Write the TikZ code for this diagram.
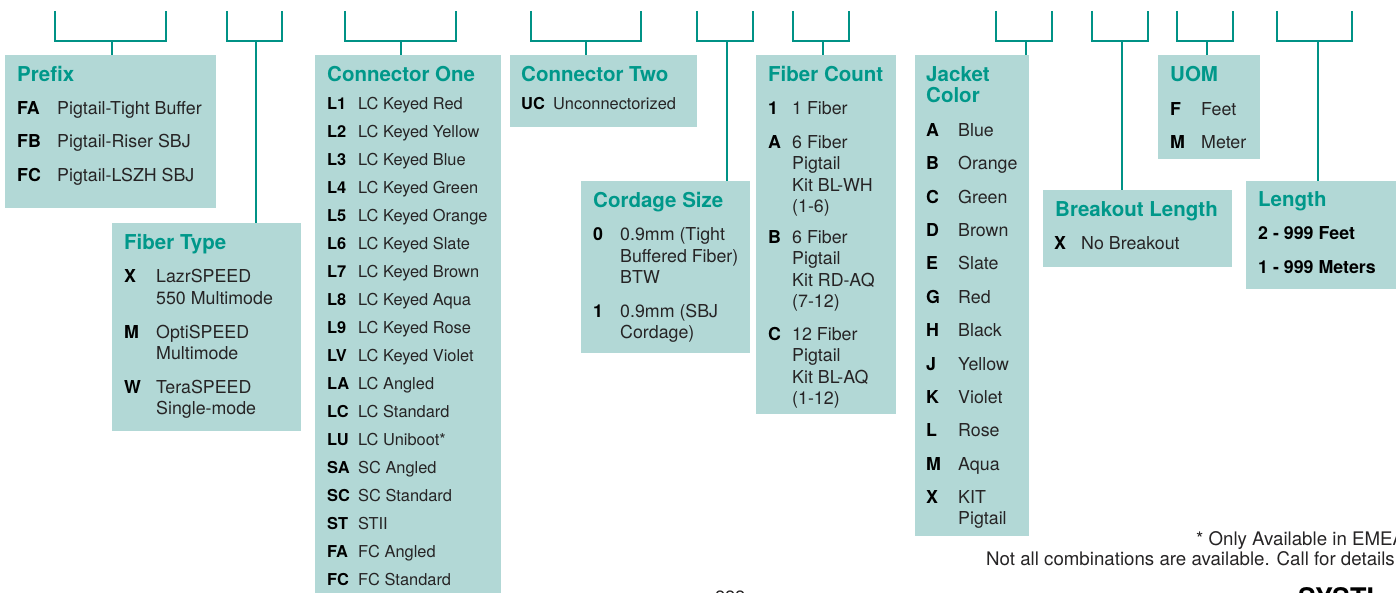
\documentclass[tikz,border=0pt]{standalone}
\usepackage{fontspec}
\setmainfont{TeX Gyre Heros}
\usetikzlibrary{fit}
\definecolor{panelbg}{RGB}{178,216,214}
\definecolor{hdr}{RGB}{0,152,138}
\definecolor{wirec}{RGB}{0,146,134}
\definecolor{ink}{RGB}{38,36,37}

\begin{document}
\begin{tikzpicture}[x=1pt,y=-1pt,line join=miter,
 panel/.style={fill=panelbg,inner sep=0pt,outer sep=0pt},
 ttl/.style={anchor=base west,inner sep=0pt,text=hdr,font=\fontsize{20.5}{24}\selectfont\bfseries},
 cd/.style={anchor=base west,inner sep=0pt,font=\fontsize{17.8}{21}\selectfont\bfseries},
 tx/.style={anchor=base west,inner sep=0pt,text=ink,font=\fontsize{17.8}{21}\selectfont},
 cdn/.style={cd,font=\fontsize{16.4}{20}\selectfont\bfseries},
 txn/.style={tx,font=\fontsize{16.4}{20}\selectfont},
 wire/.style={draw=wirec,line width=1.7pt}]
\useasboundingbox (0,0) rectangle (1396,593);
\clip (0,0) rectangle (1396,593);
% panels
\foreach \p/\a/\b/\c/\d in {prefix/5/55/216/208,ftype/112/223/301/431,conone/315/55/501/600,contwo/510/55/697/127,cordage/581/181/750/353,fcount/756/55/896/414,jacket/915/55/1029/536,breakout/1043/190/1232/267,uom/1158/55/1260/159,length/1246/181/1400/289}
  \node[panel,fit={(\a,\b)(\c,\d)}] (\p) {};
% brackets and their stems
\foreach \l/\r/\s/\p in {55/166/112/prefix,227/282/256/ftype,345/456/401/conone,531/641/586/contwo,697/753/727/cordage,793/849/823/fcount,996/1052/1026/jacket,1092/1148/1122/breakout,1177/1233/1207/uom,1277/1352/1318/length}{
  \draw[wire] (\l,11) -- (\l,41) -- (\r,41) -- (\r,11);
  \coordinate (s-\p) at (\s,41);
  \draw[wire] (s-\p) -- (s-\p |- \p.north);
}
% titles
\foreach \x/\y/\t [count=\i] in {17/82/Prefix,124/250/Fiber Type,327/81.5/Connector One,521/82/Connector Two,593/208/Cordage Size,768/82/Fiber Count,926/82/Jacket,926/103/Color,1055/217/Breakout Length,1170/82/UOM,1258/207/Length}
  \node[ttl] (t\i) at (\x,\y) {\t};
% codes
\foreach \x/\y/\t [count=\i] in {17/115/FA,17/148/FB,17/182/FC,124/283/X,124/338/M,124/393/W,593/241/0,593/317/1,768/115/1,768/148.5/A,768/243.5/B,768/340/C,1054/250/X,1170/116/F,1170/149/M,1258/240/2 - 999 Feet,1258/274/1 - 999 Meters}
  \node[cd] (k\i) at (\x,\y) {\t};
% descriptions
\foreach \x/\y/\t [count=\i] in {57/115/Pigtail-Tight Buffer,57/148/Pigtail-Riser SBJ,57/182/Pigtail-LSZH SBJ,
  156/283/LazrSPEED,156/305/550 Multimode,156/338/OptiSPEED,156/359/Multimode,156/393/TeraSPEED,156/414/Single-mode,
  620/241/0.9mm (Tight,620/263/Buffered Fiber),620/284/BTW,620/317/0.9mm (SBJ,620/338/Cordage),
  792/115/1 Fiber,792/148.5/6 Fiber,792/170/Pigtail,792/191.5/Kit BL-WH,792/213/(1-6),
  792/243.5/6 Fiber,792/265/Pigtail,792/286.5/Kit RD-AQ,792/308/(7-12),
  792/340/12 Fiber,792/361.5/Pigtail,792/383/Kit BL-AQ,792/404.5/(1-12),
  958/524/Pigtail,1081/250/No Breakout,1201/116/Feet,1201/149/Meter}
  \node[tx] (d\i) at (\x,\y) {\t};
% connector one
\foreach \c/\t [count=\i] in {L1/LC Keyed Red,L2/LC Keyed Yellow,L3/LC Keyed Blue,L4/LC Keyed Green,L5/LC Keyed Orange,L6/LC Keyed Slate,L7/LC Keyed Brown,L8/LC Keyed Aqua,L9/LC Keyed Rose,LV/LC Keyed Violet,LA/LC Angled,LC/LC Standard,LU/LC Uniboot*,SA/SC Angled,SC/SC Standard,ST/STII,FA/FC Angled,FC/FC Standard}{
  \node[cdn] (a\i) at (327,{81.5+28*\i}) {\c};
  \node[txn] (ad\i) at (358,{81.5+28*\i}) {\t};
}
\node[cdn] (uc) at (521,110) {UC};
\node[txn] (ucd) at (553,110) {Unconnectorized};
% jacket colours
\foreach \c/\t [count=\i] in {A/Blue,B/Orange,C/Green,D/Brown,E/Slate,G/Red,H/Black,J/Yellow,K/Violet,L/Rose,M/Aqua,X/KIT}{
  \node[cd] (j\i) at (926,{103.1+33.37*\i}) {\c};
  \node[tx] (jd\i) at (958,{103.1+33.37*\i}) {\t};
}
% notes
\node[tx,font=\fontsize{18.7}{22}\selectfont] (note1) at (1196,545) {* Only Available in EMEA};
\node[tx,anchor=base east,font=\fontsize{18.7}{22}\selectfont] (note2) at (1395,565) {Not all combinations are available. Call for details};
\node[tx] (pg) at (715,603.5) {222};
\node[cd,font=\fontsize{27}{30}\selectfont\bfseries] (brand) at (1298,607.5) {SYSTI};
\end{tikzpicture}
\end{document}
